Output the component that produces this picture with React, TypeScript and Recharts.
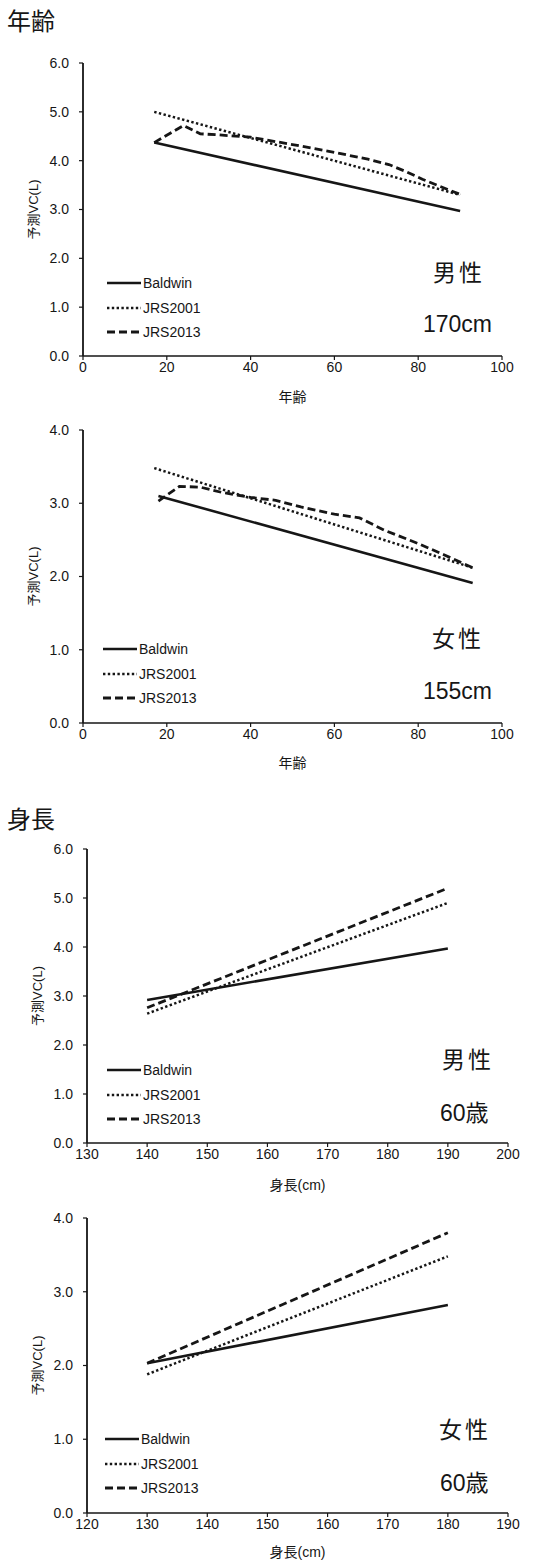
import React from 'react';
import { LineChart, Line, XAxis, YAxis, Legend, Label } from 'recharts';

type Pt = { x: number; y: number };

// ---- Data ----
const seriesNames = ['Baldwin', 'JRS2001', 'JRS2013'];

// 年齢 / 男性 170cm
const maleAgeBaldwin: Pt[] = [{ x: 17, y: 4.37 }, { x: 90, y: 2.97 }];
const maleAgeJRS2001: Pt[] = [{ x: 17, y: 5.0 }, { x: 90, y: 3.3 }];
const maleAgeJRS2013: Pt[] = [
  { x: 17, y: 4.37 }, { x: 24, y: 4.72 }, { x: 28, y: 4.55 }, { x: 32, y: 4.53 },
  { x: 40, y: 4.48 }, { x: 50, y: 4.33 }, { x: 60, y: 4.17 }, { x: 68, y: 4.03 },
  { x: 73, y: 3.92 }, { x: 77, y: 3.78 }, { x: 81, y: 3.62 }, { x: 85, y: 3.48 },
  { x: 90, y: 3.31 },
];

// 年齢 / 女性 155cm
const femaleAgeBaldwin: Pt[] = [{ x: 18, y: 3.1 }, { x: 93, y: 1.91 }];
const femaleAgeJRS2001: Pt[] = [{ x: 17, y: 3.48 }, { x: 93, y: 2.12 }];
const femaleAgeJRS2013: Pt[] = [
  { x: 18, y: 3.03 }, { x: 23, y: 3.23 }, { x: 28, y: 3.22 }, { x: 33, y: 3.15 },
  { x: 40, y: 3.08 }, { x: 46, y: 3.04 }, { x: 52, y: 2.95 }, { x: 60, y: 2.85 },
  { x: 66, y: 2.8 }, { x: 72, y: 2.63 }, { x: 80, y: 2.45 }, { x: 86, y: 2.3 },
  { x: 93, y: 2.12 },
];

// 身長 / 男性 60歳
const maleHeightBaldwin: Pt[] = [{ x: 140, y: 2.92 }, { x: 190, y: 3.97 }];
const maleHeightJRS2001: Pt[] = [{ x: 140, y: 2.64 }, { x: 190, y: 4.9 }];
const maleHeightJRS2013: Pt[] = [{ x: 140, y: 2.76 }, { x: 190, y: 5.2 }];

// 身長 / 女性 60歳
const femaleHeightBaldwin: Pt[] = [{ x: 130, y: 2.03 }, { x: 180, y: 2.82 }];
const femaleHeightJRS2001: Pt[] = [{ x: 130, y: 1.88 }, { x: 180, y: 3.48 }];
const femaleHeightJRS2013: Pt[] = [{ x: 130, y: 2.03 }, { x: 180, y: 3.8 }];

const ageTicks = [0, 20, 40, 60, 80, 100];
const maleHeightTicks = [130, 140, 150, 160, 170, 180, 190, 200];
const femaleHeightTicks = [120, 130, 140, 150, 160, 170, 180, 190];
const vc6Ticks = [0, 1, 2, 3, 4, 5, 6];
const vc4Ticks = [0, 1, 2, 3, 4];

// ---- Styles ----
const LATIN = '"Liberation Sans", Arial, "Noto Sans CJK JP", sans-serif';
const CJK = '"Noto Sans CJK JP", sans-serif';
const INK = '#161616';

const lineStyles = [
  { width: 2.6, dash: undefined as string | undefined },
  { width: 2.5, dash: '2.4 2.4' },
  { width: 2.8, dash: '8 4' },
];

type PanelProps = {
  plotTop: number;
  plotBottom: number;
  plotLeft: number;
  plotRight: number;
  xDomain: [number, number];
  xTicks: number[];
  yTicks: number[];
  series: Pt[][];
  xLabel: string;
  xLabelD: number;
  yLabelX: number;
  legendLeft: number;
  legendTop: number;
};

function Panel(p: PanelProps) {
  const top = p.plotTop - 30;
  const xAxisH = 58;
  const height = p.plotBottom - top + xAxisH;
  const tickStyle = { fontSize: 14, fill: INK, fontFamily: LATIN };

  const legendContent = () => (
    <div style={{ fontFamily: LATIN, fontSize: 14, color: INK }}>
      {seriesNames.map((n, i) => (
        <div key={n} style={{ display: 'flex', alignItems: 'center', height: 24.5 }}>
          <svg width={34} height={6} style={{ display: 'block' }}>
            <line x1={0} y1={3} x2={34} y2={3} stroke={INK}
              strokeWidth={lineStyles[i].width} strokeDasharray={lineStyles[i].dash} />
          </svg>
          <span style={{ marginLeft: 2, lineHeight: 1 }}>{n}</span>
        </div>
      ))}
    </div>
  );

  return (
    <div style={{ position: 'absolute', left: 0, top }}>
      <LineChart width={539} height={height}
        margin={{ top: p.plotTop - top, right: 539 - p.plotRight, bottom: 0, left: 0 }}>
        <XAxis type="number" dataKey="x" domain={p.xDomain} ticks={p.xTicks} allowDataOverflow
          height={xAxisH} tickSize={4} tickMargin={2} tick={tickStyle}
          axisLine={{ stroke: INK, strokeWidth: 1.6 }} tickLine={{ stroke: INK, strokeWidth: 1.2 }}>
          <Label content={(props: any) => {
            const vb = props.viewBox || {};
            return (
              <text x={vb.x + vb.width / 2} y={vb.y + p.xLabelD} textAnchor="middle"
                dominantBaseline="central" fontSize={14} fill={INK} fontFamily={LATIN}>
                {p.xLabel}
              </text>
            );
          }} />
        </XAxis>
        <YAxis type="number" domain={[p.yTicks[0], p.yTicks[p.yTicks.length - 1]]} ticks={p.yTicks}
          width={p.plotLeft} tickSize={4} tickMargin={10} tick={tickStyle}
          tickFormatter={(v: number) => v.toFixed(1)}
          axisLine={{ stroke: INK, strokeWidth: 1.8 }} tickLine={{ stroke: INK, strokeWidth: 1.2 }}>
          <Label content={(props: any) => {
            const vb = props.viewBox || {};
            const cy = vb.y + vb.height / 2;
            return (
              <text x={p.yLabelX} y={cy} transform={`rotate(-90 ${p.yLabelX} ${cy})`}
                textAnchor="middle" dominantBaseline="central" fontSize={13} fill={INK}
                fontFamily={LATIN}>
                予測VC(L)
              </text>
            );
          }} />
        </YAxis>
        <Legend layout="vertical" align="center" verticalAlign="middle" content={legendContent}
          wrapperStyle={{ left: p.legendLeft, top: p.legendTop - top, width: 120 }} />
        {p.series.map((d, i) => (
          <Line key={seriesNames[i]} name={seriesNames[i]} data={d} dataKey="y" type="linear"
            stroke={INK} strokeWidth={lineStyles[i].width} strokeDasharray={lineStyles[i].dash}
            dot={false} activeDot={false} isAnimationActive={false} />
        ))}
      </LineChart>
    </div>
  );
}

function Note({ text, left, cy, size, font, spacing }: { text: string; left: number; cy: number; size: number; font: string; spacing?: number }) {
  return (
    <div style={{
      position: 'absolute', left, top: cy, transform: 'translateY(-50%)',
      fontSize: size, lineHeight: 1, fontFamily: font, color: INK,
      letterSpacing: spacing ?? 0, whiteSpace: 'nowrap',
    }}>{text}</div>
  );
}

export default function App() {
  return (
    <div style={{ position: 'absolute', left: 0, top: 0, width: 539, height: 1564, background: '#fff', overflow: 'hidden' }}>
      <Note text="年齢" left={7} cy={20} size={24} font={CJK} />
      <Panel plotTop={63} plotBottom={356} plotLeft={83} plotRight={502}
        xDomain={[0, 100]} xTicks={ageTicks} yTicks={vc6Ticks}
        series={[maleAgeBaldwin, maleAgeJRS2001, maleAgeJRS2013]}
        xLabel="年齢" xLabelD={41} yLabelX={33} legendLeft={107} legendTop={271} />
      <Note text="男性" left={433} cy={271} size={23} font={CJK} spacing={3} />
      <Note text="170cm" left={423} cy={324} size={23} font={LATIN} />

      <Panel plotTop={430} plotBottom={723} plotLeft={83} plotRight={502}
        xDomain={[0, 100]} xTicks={ageTicks} yTicks={vc4Ticks}
        series={[femaleAgeBaldwin, femaleAgeJRS2001, femaleAgeJRS2013]}
        xLabel="年齢" xLabelD={40} yLabelX={33} legendLeft={103} legendTop={637} />
      <Note text="女性" left={432} cy={637} size={23} font={CJK} spacing={3} />
      <Note text="155cm" left={423} cy={691} size={23} font={LATIN} />

      <Note text="身長" left={7} cy={818} size={24} font={CJK} />
      <Panel plotTop={849} plotBottom={1143} plotLeft={87} plotRight={508}
        xDomain={[130, 200]} xTicks={maleHeightTicks} yTicks={vc6Ticks}
        series={[maleHeightBaldwin, maleHeightJRS2001, maleHeightJRS2013]}
        xLabel="身長(cm)" xLabelD={42} yLabelX={37} legendLeft={107} legendTop={1058} />
      <Note text="男性" left={442} cy={1058} size={23} font={CJK} spacing={3} />
      <Note text="60歳" left={440} cy={1113} size={23} font={LATIN} />

      <Panel plotTop={1218} plotBottom={1513} plotLeft={87} plotRight={508}
        xDomain={[120, 190]} xTicks={femaleHeightTicks} yTicks={vc4Ticks}
        series={[femaleHeightBaldwin, femaleHeightJRS2001, femaleHeightJRS2013]}
        xLabel="身長(cm)" xLabelD={39} yLabelX={37} legendLeft={105} legendTop={1427} />
      <Note text="女性" left={439} cy={1428} size={23} font={CJK} spacing={3} />
      <Note text="60歳" left={440} cy={1483} size={23} font={LATIN} />
    </div>
  );
}
